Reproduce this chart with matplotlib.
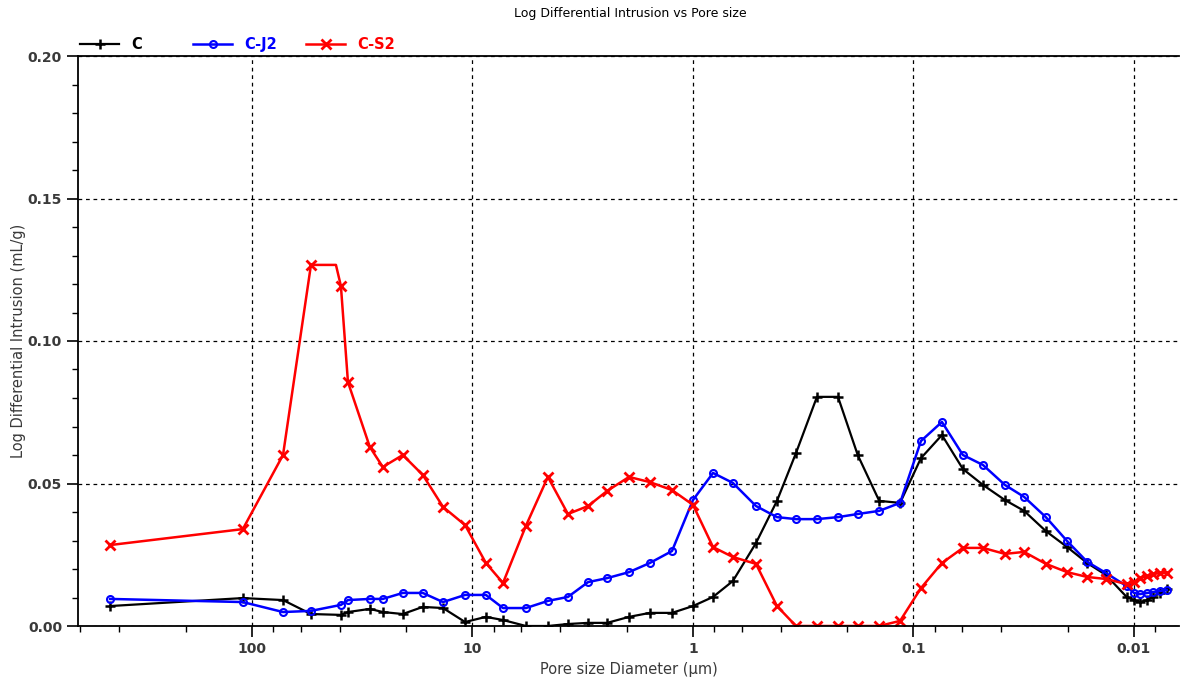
import matplotlib
matplotlib.use("Agg")
import matplotlib.pyplot as plt
from matplotlib.ticker import FixedLocator, FixedFormatter, MultipleLocator, LogLocator, NullFormatter

# Pore size diameters (um), shared by all three samples
diam = [440, 110, 72.3, 54.0, 39.5, 36.7, 29.2, 25.5, 20.7, 16.8, 13.6, 10.8, 8.69, 7.27,
        5.72, 4.55, 3.69, 2.99, 2.45, 1.95, 1.57, 1.245, 1.0, 0.811, 0.659, 0.518, 0.416,
        0.341, 0.274, 0.220, 0.179, 0.143, 0.115, 0.0925, 0.0743, 0.0597, 0.0484, 0.0385,
        0.0315, 0.0251, 0.0201, 0.0163, 0.0134, 0.0108, 0.0100, 0.0094, 0.0087, 0.0082,
        0.0076, 0.0071]

c_vals = [0.0070, 0.0098, 0.0091, 0.0042, 0.0039, 0.0049, 0.0060, 0.0049, 0.0042, 0.0067,
          0.0063, 0.0014, 0.0032, 0.0021, 0.0, 0.0, 0.0007, 0.0011, 0.0011, 0.0032,
          0.0046, 0.0046, 0.0070, 0.0102, 0.0158, 0.0291, 0.0439, 0.0607, 0.0804, 0.0804,
          0.0600, 0.0439, 0.0432, 0.0589, 0.0670, 0.0551, 0.0495, 0.0442, 0.0404, 0.0333,
          0.0277, 0.0221, 0.0179, 0.0102, 0.0091, 0.0084, 0.0091, 0.0102, 0.0116, 0.0130]

cj2_vals = [0.0095, 0.0084, 0.0049, 0.0053, 0.0074, 0.0091, 0.0095, 0.0095, 0.0116, 0.0116,
            0.0084, 0.0109, 0.0109, 0.0063, 0.0063, 0.0088, 0.0102, 0.0154, 0.0168, 0.0189,
            0.0221, 0.0263, 0.0442, 0.0537, 0.0502, 0.0421, 0.0382, 0.0375, 0.0375, 0.0382,
            0.0393, 0.0404, 0.0432, 0.0649, 0.0716, 0.0600, 0.0565, 0.0495, 0.0453, 0.0382,
            0.0298, 0.0225, 0.0186, 0.0140, 0.0116, 0.0112, 0.0116, 0.0119, 0.0123, 0.0126]

cs2_vals = [0.0284, 0.0340, 0.0600, 0.1267, 0.1193, 0.0856, 0.0628, 0.0558, 0.0600, 0.0530,
            0.0418, 0.0354, 0.0221, 0.0151, 0.0352, 0.0523, 0.0393, 0.0421, 0.0474, 0.0523,
            0.0505, 0.0477, 0.0425, 0.0277, 0.0242, 0.0218, 0.0070, 0.0, 0.0, 0.0,
            0.0, 0.0, 0.0018, 0.0133, 0.0221, 0.0274, 0.0274, 0.0253, 0.0260, 0.0218,
            0.0189, 0.0172, 0.0165, 0.0147, 0.0154, 0.0168, 0.0175, 0.0182, 0.0186, 0.0186]

# C-S2 curve stays flat at its peak before dropping (no marker at the corner)
cs2_corner_d = 41.6
cs2_corner_v = 0.1267

x_ticks = [100, 10, 1, 0.1, 0.01]
x_tick_labels = ["100", "10", "1", "0.1", "0.01"]
y_ticks = [0.00, 0.05, 0.10, 0.15, 0.20]
series_names = ["C", "C-J2", "C-S2"]
series_colors = ["black", "#0000ff", "#ff0000"]

fig = plt.figure(figsize=(11.81, 6.82), dpi=100)
ax = fig.add_axes([78/1181, 1-626/682, 1101/1181, 570/682])

l1, = ax.plot(diam, c_vals, color="black", lw=1.6, marker="+", ms=7, mew=1.8)
l2, = ax.plot(diam, cj2_vals, color="#0000ff", lw=1.8, marker="o", ms=5, mew=1.5,
              mfc="none")
s2_d = diam[:4] + [cs2_corner_d] + diam[4:]
s2_v = cs2_vals[:4] + [cs2_corner_v] + cs2_vals[4:]
marks = [i for i in range(len(s2_d)) if i != 4]
l3, = ax.plot(s2_d, s2_v, color="#ff0000", lw=1.8, marker="x", ms=7, mew=2,
              markevery=marks)

ax.set_xscale("log")
ax.set_xlim(615, 0.00625)
ax.set_ylim(0, 0.20)

ax.xaxis.set_major_locator(FixedLocator(x_ticks))
ax.xaxis.set_major_formatter(FixedFormatter(x_tick_labels))
ax.xaxis.set_minor_locator(LogLocator(base=10, subs=(2, 4, 6, 8), numticks=20))
ax.xaxis.set_minor_formatter(NullFormatter())
ax.yaxis.set_major_locator(FixedLocator(y_ticks))
ax.yaxis.set_minor_locator(MultipleLocator(0.01))
ax.yaxis.set_major_formatter(plt.FuncFormatter(lambda v, p: "%.2f" % v))

ax.tick_params(axis="both", which="major", direction="out", length=8, width=1.2,
               labelsize=10, labelcolor="#3a3a3a")
ax.tick_params(axis="both", which="minor", direction="out", length=4, width=1.0)
for lab in ax.get_xticklabels() + ax.get_yticklabels():
    lab.set_fontweight("bold")

ax.grid(True, which="major", color="black", linestyle=(0, (3, 3)), linewidth=0.9)
ax.spines["right"].set_visible(False)
for s in ["left", "bottom", "top"]:
    ax.spines[s].set_linewidth(1.3)

ax.set_xlabel("Pore size Diameter (µm)", fontsize=10.5, color="#3a3a3a", labelpad=4)
ax.set_ylabel("Log Differential Intrusion (mL/g)", fontsize=10.5, color="#3a3a3a", labelpad=1)

fig.text(630/1181, 1-13/682, "Log Differential Intrusion vs Pore size", ha="center",
         va="center", fontsize=9)

# legend entries sit at fixed spacing above the plot
for k, (h, name, col) in enumerate(zip([l1, l2, l3], series_names, series_colors)):
    leg = fig.legend([h], [name], loc="lower left",
                     bbox_to_anchor=((80 + 113*k)/1181, 1-52/682),
                     frameon=False, fontsize=10.5, handlelength=2.7,
                     handletextpad=0.8, borderaxespad=0, borderpad=0)
    for txt in leg.get_texts():
        txt.set_color(col)
        txt.set_fontweight("bold")

fig.savefig("out.png", dpi=100)
